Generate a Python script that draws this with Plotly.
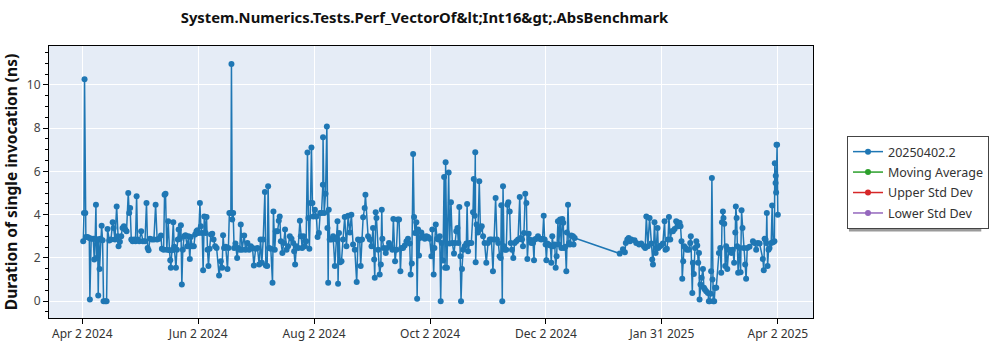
import pandas as pd
import plotly.graph_objects as go

# ---- data ----
start_date = "2024-04-02"
days_since_start = [
    0.5, 0.9, 1.2, 1.6, 1.9, 2.8, 3.7, 4.0, 4.7, 5.8, 6.3, 6.8, 7.2, 7.5, 8.1, 8.4, 8.8, 9.1, 9.6, 10.2,
    10.7, 11.2, 12.1, 12.8, 13.3, 14.2, 15.1, 16.0, 16.5, 17.2, 18.1, 18.6, 19.1, 19.8, 20.5, 21.2, 21.9, 22.6, 23.3, 24.2,
    24.7, 25.2, 25.8, 26.5, 27.3, 28.0, 28.6, 29.1, 30.0, 31.0, 31.9, 33.0, 33.8, 34.4, 34.9, 35.6, 36.6, 37.7, 38.6, 39.4,
    40.5, 41.4, 41.9, 42.8, 43.3, 43.8, 44.5, 45.2, 45.9, 46.3, 46.6, 47.2, 47.9, 48.4, 49.3, 49.8, 50.3, 50.7, 51.4, 51.9,
    52.4, 52.9, 53.6, 54.3, 55.2, 55.9, 56.6, 57.1, 57.8, 58.7, 59.4, 60.1, 60.6, 61.3, 61.9, 62.4, 63.1, 63.6, 64.2, 64.9,
    65.4, 65.9, 66.4, 67.0, 67.7, 68.4, 69.1, 69.9, 70.7, 72.0, 72.9, 73.6, 74.1, 74.6, 75.5, 76.4, 76.9, 77.4, 78.2, 78.5,
    78.9, 79.4, 79.9, 80.6, 81.5, 82.0, 82.9, 83.4, 84.1, 85.2, 85.9, 86.9, 87.8, 88.7, 89.6, 90.3, 91.2, 92.2, 93.1, 93.8,
    94.5, 95.2, 96.1, 96.6, 97.3, 97.8, 98.3, 99.2, 100.1, 100.6, 101.3, 101.8, 102.7, 103.4, 103.9, 104.5, 105.3, 106.0, 106.7, 107.5,
    108.3, 109.2, 110.1, 111.0, 111.5, 112.0, 112.7, 113.6, 114.5, 115.0, 115.7, 116.4, 117.1, 117.8, 118.5, 119.0, 119.5, 120.1, 120.6, 121.1,
    121.6, 122.4, 123.2, 123.8, 124.5, 125.2, 125.9, 126.6, 126.7, 127.3, 128.0, 128.7, 129.0, 129.4, 129.7, 130.2, 131.1, 132.0, 132.9, 133.7,
    134.3, 134.6, 135.1, 135.7, 136.4, 137.2, 138.1, 139.0, 139.9, 140.8, 141.6, 142.5, 143.4, 144.4, 145.1, 146.0, 146.5, 147.2, 147.8, 148.6,
    149.0, 150.4, 151.3, 152.2, 153.0, 153.6, 153.9, 154.4, 154.8, 155.7, 156.5, 157.1, 157.6, 157.9, 158.6, 159.7, 160.4, 161.4, 162.3, 163.2,
    163.7, 164.6, 165.3, 166.0, 166.7, 167.4, 167.9, 168.8, 169.7, 170.6, 171.4, 172.3, 172.8, 173.4, 174.1, 174.6, 175.1, 175.8, 176.2, 176.7,
    177.2, 177.6, 178.4, 179.3, 180.2, 181.1, 182.0, 182.8, 183.7, 184.2, 184.9, 185.3, 186.0, 186.7, 187.4, 188.1, 188.6, 189.1, 189.8, 190.4,
    190.9, 191.2, 191.9, 192.8, 193.3, 194.0, 194.7, 195.6, 196.1, 196.8, 197.4, 197.9, 198.4, 199.0, 199.3, 199.8, 200.4, 201.2, 202.1, 202.5,
    203.0, 203.9, 204.7, 205.6, 206.0, 206.5, 206.8, 207.0, 207.5, 208.2, 208.9, 209.5, 210.2, 210.9, 211.7, 212.6, 213.5, 214.4, 215.3, 216.1,
    216.8, 217.5, 218.2, 218.9, 219.6, 220.2, 220.5, 221.0, 221.4, 221.9, 222.4, 223.1, 223.7, 224.2, 224.9, 225.4, 226.1, 226.8, 227.5, 228.4,
    229.3, 230.2, 230.7, 231.4, 231.9, 232.4, 233.1, 233.7, 234.2, 234.9, 235.4, 236.3, 237.2, 237.7, 238.0, 238.9, 239.8, 240.7, 241.5, 242.2,
    242.8, 243.3, 243.8, 244.2, 244.7, 245.4, 246.3, 246.8, 247.3, 247.9, 248.6, 249.1, 249.6, 250.3, 250.8, 251.4, 252.1, 252.6, 253.1, 253.5,
    254.2, 254.7, 255.0, 255.6, 256.1, 256.6, 257.3, 258.2, 258.5, 259.1, 282.8, 284.5, 285.5, 286.0, 286.8, 287.5, 288.2, 288.9, 290.6, 291.5,
    293.0, 294.1, 295.5, 296.2, 296.8, 297.6, 298.5, 299.4, 299.9, 300.3, 301.1, 301.7, 302.0, 302.7, 303.1, 303.8, 304.6, 305.5, 306.4, 306.9,
    307.6, 308.2, 308.7, 309.4, 310.1, 310.8, 311.7, 312.5, 313.1, 313.6, 314.3, 314.8, 315.3, 315.7, 316.2, 316.7, 317.4, 318.1, 319.2, 319.9,
    320.2, 321.0, 321.3, 321.8, 322.4, 323.1, 323.6, 324.1, 324.5, 324.8, 325.3, 325.9, 326.6, 327.1, 327.6, 328.3, 329.2, 329.7, 330.1, 330.6,
    330.9, 331.3, 331.6, 332.0, 332.5, 333.0, 333.6, 335.0, 335.7, 336.2, 336.6, 337.1, 337.4, 337.8, 338.3, 338.8, 339.4, 340.1, 340.9, 341.6,
    342.3, 343.0, 343.6, 343.9, 344.3, 344.6, 345.1, 345.8, 346.4, 346.9, 347.4, 348.1, 348.8, 349.3, 349.9, 351.1, 352.9, 353.7, 354.6, 355.5,
    356.4, 358.1, 358.6, 359.0, 359.5, 359.9, 360.2, 360.6, 361.1, 361.6, 362.5, 363.0, 363.5, 364.2, 364.4, 364.8, 364.9, 365.1, 365.3, 365.6,
    366.0,
]
duration_ns = [
    2.77, 4.08, 10.26, 4.08, 2.97, 2.97, 2.92, 0.08, 2.89, 2.88, 1.92, 2.89, 4.46, 2.00, 2.85, 0.26, 2.85, 1.49, 2.88, 3.49,
    2.82, 0.00, 0.00, 0.00, 3.34, 2.80, 2.85, 3.65, 3.38, 2.85, 4.38, 3.00, 2.54, 2.75, 3.00, 3.38, 3.46, 3.31, 3.23, 5.00,
    4.08, 4.31, 2.85, 2.77, 2.85, 2.77, 4.85, 2.85, 2.77, 3.23, 2.77, 2.77, 4.54, 2.46, 2.35, 2.88, 2.85, 2.85, 4.46, 2.85,
    2.88, 3.03, 2.42, 2.38, 4.92, 4.97, 2.38, 3.69, 2.35, 1.89, 1.54, 2.35, 3.65, 2.51, 1.54, 2.38, 2.85, 3.31, 2.88, 3.51,
    0.77, 2.38, 3.00, 3.05, 2.54, 3.00, 1.95, 2.97, 2.54, 2.54, 3.08, 3.23, 3.28, 3.15, 4.54, 3.46, 3.15, 1.43, 3.92, 3.15,
    3.89, 2.38, 1.62, 2.42, 3.08, 3.12, 2.85, 2.54, 2.46, 1.18, 1.85, 1.54, 3.05, 2.46, 2.51, 1.49, 2.46, 4.08, 4.08, 10.97,
    3.77, 4.08, 2.46, 2.66, 2.00, 2.46, 2.38, 3.54, 2.38, 3.03, 2.38, 2.69, 2.38, 2.54, 2.46, 1.65, 2.42, 2.46, 1.69, 2.85,
    1.77, 2.85, 5.05, 1.65, 1.62, 5.31, 2.46, 2.42, 0.85, 4.15, 2.38, 3.23, 3.23, 3.72, 3.92, 2.77, 2.23, 2.69, 3.31, 2.38,
    2.54, 3.00, 2.88, 2.69, 2.31, 1.69, 2.54, 2.46, 3.72, 3.00, 2.46, 3.00, 2.54, 2.77, 6.88, 3.85, 2.42, 4.54, 7.11, 4.54,
    3.92, 4.23, 3.92, 2.97, 3.15, 4.08, 4.08, 5.38, 7.58, 4.08, 4.97, 8.08, 3.38, 0.85, 4.23, 2.85, 2.85, 3.00, 1.62, 2.85,
    3.69, 0.80, 3.15, 1.80, 1.85, 2.85, 3.89, 2.54, 3.95, 3.18, 4.00, 2.62, 2.38, 0.89, 2.85, 2.82, 1.62, 2.85, 3.88, 4.31,
    4.92, 3.00, 2.85, 2.54, 3.38, 1.92, 1.08, 4.11, 3.85, 2.38, 1.23, 1.69, 4.23, 2.88, 2.46, 2.23, 2.46, 2.69, 2.54, 2.38,
    3.80, 1.85, 2.38, 3.77, 3.77, 1.38, 2.46, 2.46, 2.57, 2.77, 2.88, 2.66, 1.23, 1.74, 6.80, 3.89, 3.15, 3.65, 0.11, 3.31,
    2.11, 2.92, 3.18, 3.00, 2.88, 3.00, 2.97, 2.88, 2.08, 3.31, 1.23, 2.46, 3.54, 2.88, 2.85, 3.00, 0.00, 2.69, 1.88, 5.74,
    1.54, 6.42, 1.54, 5.95, 2.66, 4.57, 2.69, 2.20, 2.69, 3.23, 3.38, 2.69, 4.35, 2.08, 0.00, 1.49, 2.38, 2.54, 2.66, 4.49,
    2.31, 2.69, 2.69, 4.11, 5.65, 3.95, 6.89, 1.80, 3.54, 3.18, 5.54, 3.34, 3.46, 3.00, 2.69, 1.77, 2.69, 2.85, 2.85, 1.38,
    2.85, 4.77, 2.85, 2.69, 2.08, 2.00, 4.43, 0.00, 5.31, 2.54, 2.38, 2.38, 4.46, 4.57, 4.15, 2.69, 2.38, 2.00, 2.69, 2.77,
    2.85, 4.82, 2.92, 2.85, 2.54, 3.15, 4.97, 4.54, 1.95, 3.12, 2.85, 2.69, 2.69, 1.89, 2.85, 2.88, 3.00, 2.88, 2.85, 2.88,
    3.95, 2.85, 2.62, 1.89, 2.66, 2.62, 2.57, 1.77, 3.00, 2.54, 2.62, 1.54, 2.08, 3.69, 2.62, 3.77, 2.46, 3.80, 3.62, 2.46,
    2.51, 1.38, 3.18, 4.46, 2.69, 2.62, 3.03, 3.00, 2.62, 2.92, 2.20, 2.40, 2.26, 2.69, 2.85, 2.92, 2.77, 2.85, 2.82, 2.69,
    2.62, 2.66, 2.54, 2.46, 3.92, 2.54, 3.85, 2.66, 1.92, 1.69, 3.65, 2.23, 2.46, 3.38, 2.46, 2.54, 2.57, 2.66, 3.69, 2.38,
    2.42, 2.85, 3.89, 2.85, 3.23, 3.23, 3.34, 3.69, 3.65, 3.46, 3.62, 3.46, 2.77, 1.03, 1.85, 2.54, 2.46, 2.38, 2.38, 2.69,
    3.00, 0.38, 1.77, 1.26, 2.46, 2.77, 2.57, 1.77, 2.23, 0.08, 0.77, 1.08, 1.49, 0.62, 0.54, 0.46, 0.38, 0.00, 0.00, 0.34,
    1.38, 5.69, 1.00, 0.00, 0.00, 0.62, 0.62, 2.23, 2.46, 1.31, 3.65, 4.15, 3.85, 3.58, 1.62, 2.54, 1.49, 2.38, 2.35, 2.23,
    2.38, 1.77, 3.18, 4.38, 3.85, 2.54, 1.31, 2.46, 1.34, 4.20, 3.38, 2.46, 1.69, 1.03, 2.46, 2.51, 2.77, 2.69, 2.38, 2.69,
    2.66, 1.95, 1.43, 2.88, 2.85, 2.69, 4.08, 1.62, 2.38, 2.46, 2.69, 4.42, 2.72, 2.77, 6.38, 5.46, 5.80, 5.03, 7.23, 7.23,
    4.00,
]
series_names = ["20250402.2", "Moving Average", "Upper Std Dev", "Lower Std Dev"]
series_colors = ["#1f77b4", "#2ca02c", "#d62728", "#9467bd"]
tick_days = [0, 61, 122, 183, 244, 305, 366]
tick_labels = ["Apr 2 2024", "Jun 2 2024", "Aug 2 2024", "Oct 2 2024", "Dec 2 2024", "Jan 31 2025", "Apr 2 2025"]
title_text = "System.Numerics.Tests.Perf_VectorOf&amp;lt;Int16&amp;gt;.AbsBenchmark"
y_title = "Duration of single invocation (ns)"

t0 = pd.Timestamp(start_date)
dates = t0 + pd.to_timedelta(days_since_start, unit="D")
tick_vals = t0 + pd.to_timedelta(tick_days, unit="D")

FONT = "Segoe UI, Noto Sans, sans-serif"
W, H = 1000, 350
L, R, T, B = 49, 186, 46, 32
pw, ph = W - L - R, H - T - B

def px_x(p):
    return (p - L) / pw

def px_y(p):
    return (H - B - p) / ph

fig = go.Figure()
fig.add_trace(go.Scatter(
    x=dates, y=duration_ns, mode="lines+markers", name=series_names[0],
    legendgroup="g0",
    line=dict(color=series_colors[0], width=1.5),
    marker=dict(color=series_colors[0], size=6),
))
for i, (name, col) in enumerate(zip(series_names[1:], series_colors[1:]), start=1):
    fig.add_trace(go.Scatter(
        x=[None], y=[None], mode="lines+markers", name=name, legendgroup=f"g{i}",
        line=dict(color=col, width=1.5), marker=dict(color=col, size=6),
    ))

# legend drop shadow
fig.add_shape(type="rect", xref="paper", yref="paper",
              x0=px_x(850), x1=px_x(982.5), y0=px_y(231.5), y1=px_y(139),
              fillcolor="#9a9a9a", line=dict(width=0), layer="above")

fig.update_layout(
    width=W, height=H,
    margin=dict(l=L, r=R, t=T, b=B),
    paper_bgcolor="white", plot_bgcolor="#e5ecf6",
    font=dict(family=FONT, size=12, color="#444"),
    title=dict(text=title_text, x=424.5 / W, xref="container", xanchor="center",
               y=1 - 18 / H, yref="container", yanchor="middle",
               font=dict(family=FONT, size=14.8, color="#111", weight="bold")),
    showlegend=True,
    legend=dict(x=px_x(847), y=px_y(136), xanchor="left", yanchor="top",
                bgcolor="white", bordercolor="#444", borderwidth=1,
                tracegroupgap=1.2,
                font=dict(family=FONT, size=12.5, color="#333")),
    xaxis=dict(type="date", automargin=False,
               range=[t0 - pd.Timedelta(days=17.5), t0 + pd.Timedelta(days=384.5)],
               tickmode="array", tickvals=tick_vals, ticktext=tick_labels,
               showgrid=True, gridcolor="white", gridwidth=1,
               showline=True, linecolor="black", linewidth=1, mirror=True,
               ticks="outside", ticklen=5, tickcolor="black",
               tickfont=dict(size=12, color="#333")),
    yaxis=dict(range=[-0.78, 11.8], dtick=2, tick0=0, automargin=False,
               title=dict(text=y_title, font=dict(family=FONT, size=15.5, color="#111", weight="bold"), standoff=7),
               showgrid=True, gridcolor="white", gridwidth=1, zeroline=False,
               showline=True, linecolor="black", linewidth=1, mirror=True,
               ticks="outside", ticklen=5, tickcolor="black",
               minor=dict(dtick=0.5, ticks="outside", ticklen=3, tickcolor="black", showgrid=False),
               tickfont=dict(size=12, color="#444")),
)

fig.write_html("out.html")
